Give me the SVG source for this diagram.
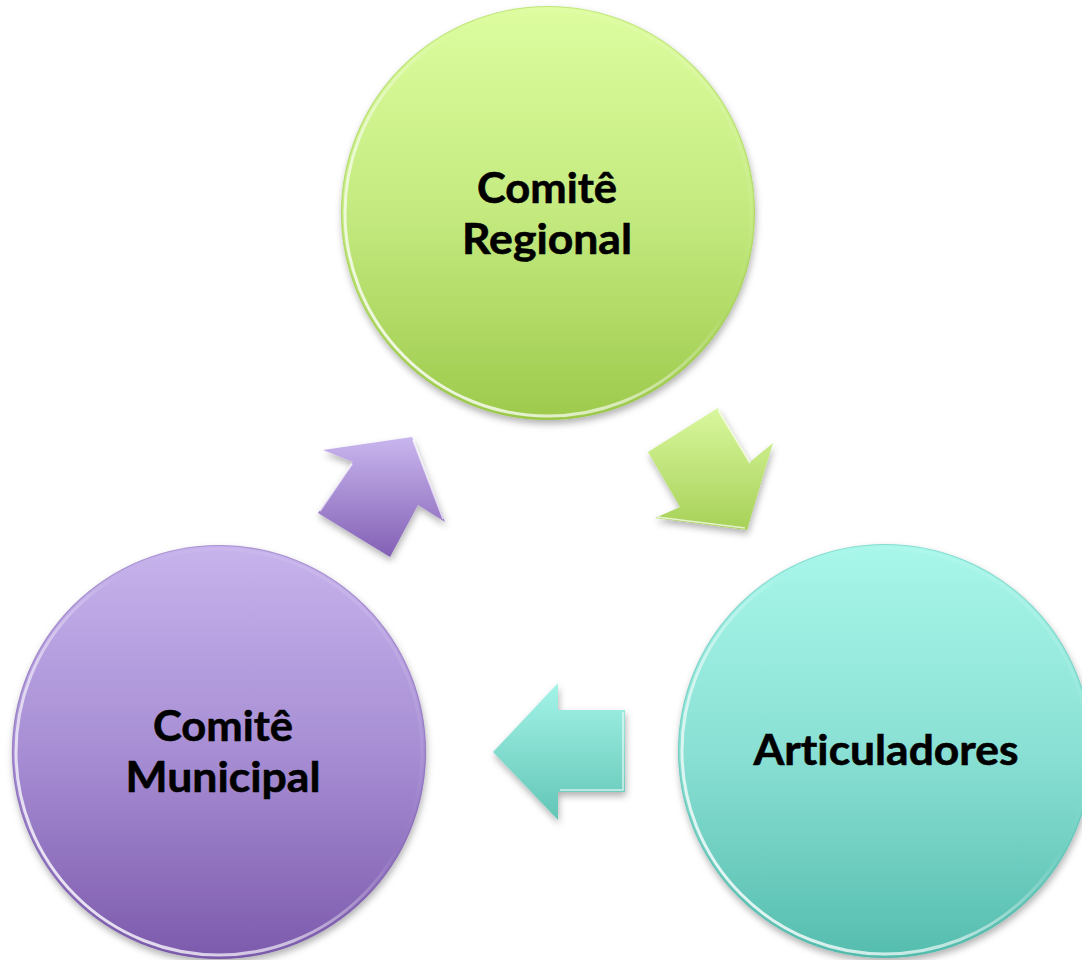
<svg xmlns="http://www.w3.org/2000/svg" width="1082" height="960" viewBox="0 0 1082 960">
  <defs>
    <linearGradient id="gGreen" x1="0" y1="0" x2="0" y2="1">
      <stop offset="0" stop-color="#ddfd9f"/>
      <stop offset="0.5" stop-color="#c4ea7f"/>
      <stop offset="1" stop-color="#9dca4c"/>
    </linearGradient>
    <linearGradient id="gTeal" x1="0" y1="0" x2="0" y2="1">
      <stop offset="0" stop-color="#a8f7ea"/>
      <stop offset="0.5" stop-color="#8ae0d4"/>
      <stop offset="1" stop-color="#55bdae"/>
    </linearGradient>
    <linearGradient id="gPurple" x1="0" y1="0" x2="0" y2="1">
      <stop offset="0" stop-color="#c7b3ec"/>
      <stop offset="0.5" stop-color="#a78ed4"/>
      <stop offset="1" stop-color="#7c5aac"/>
    </linearGradient>
    <linearGradient id="aGreen" x1="0" y1="0" x2="0" y2="1">
      <stop offset="0" stop-color="#d9f79d"/>
      <stop offset="1" stop-color="#a7d158"/>
    </linearGradient>
    <linearGradient id="aTeal" x1="0" y1="0" x2="0" y2="1">
      <stop offset="0" stop-color="#a4f3e8"/>
      <stop offset="1" stop-color="#62c6b6"/>
    </linearGradient>
    <linearGradient id="aPurple" x1="0" y1="0" x2="0" y2="1">
      <stop offset="0" stop-color="#c9b6ee"/>
      <stop offset="1" stop-color="#8360b5"/>
    </linearGradient>
    <linearGradient id="rim" x1="0" y1="1" x2="1" y2="0">
      <stop offset="0" stop-color="#ffffff" stop-opacity="0.95"/>
      <stop offset="0.35" stop-color="#ffffff" stop-opacity="0.6"/>
      <stop offset="0.6" stop-color="#ffffff" stop-opacity="0"/>
      <stop offset="0.85" stop-color="#ffffff" stop-opacity="0.1"/>
      <stop offset="1" stop-color="#ffffff" stop-opacity="0.5"/>
    </linearGradient>
    <filter id="shadow" x="-10%" y="-10%" width="120%" height="125%">
      <feDropShadow dx="1" dy="4" stdDeviation="3.5" flood-color="#000000" flood-opacity="0.3"/>
    </filter>
  </defs>
  <style>
    .label { font-family: Lato, "Open Sans", "Liberation Sans", sans-serif; font-weight: 700; font-size: 42px; fill: #000000; text-anchor: middle; font-variant-ligatures: none; font-feature-settings: "liga" 0, "clig" 0, "dlig" 0; stroke: #000000; stroke-width: 0.6; }
    .rim { fill: none; stroke: url(#rim); stroke-width: 3; }
    .edge { fill: none; stroke-width: 1.2; stroke-opacity: 0.35; }
    .arrowhl { fill: none; stroke: #ffffff; stroke-width: 1.5; stroke-opacity: 0.7; stroke-linejoin: round; }
  </style>
  <rect width="1082" height="960" fill="#ffffff"/>

  <g id="connectors">
    <g id="arrow-regional-articuladores" filter="url(#shadow)">
      <polygon points="648,452 718,408 750,462 773,443 747,530 655,518 680,507" fill="url(#aGreen)"/>
      <polyline class="arrowhl" points="718,410 750,463"/>
      <polyline class="arrowhl" points="657,517 745,528"/>
    </g>
    <g id="arrow-articuladores-municipal" filter="url(#shadow)">
      <polygon points="493,752 558,683 558,710 625,710 625,792 558,792 558,820" fill="url(#aTeal)"/>
      <polyline class="arrowhl" points="560,790 623,790 623,712"/>
    </g>
    <g id="arrow-municipal-regional" filter="url(#shadow)">
      <polygon points="323,450 412,437 445,522 418,505 390,557 318,513 353,462" fill="url(#aPurple)"/>
      <polyline class="arrowhl" points="352,464 320,511"/>
      <polyline class="arrowhl" points="413,440 443,519"/>
    </g>
  </g>

  <g id="node-regional">
    <circle cx="548" cy="213" r="207" fill="url(#gGreen)" filter="url(#shadow)"/>
    <circle class="rim" cx="548" cy="213" r="203"/>
    <circle class="edge" cx="548" cy="213" r="206.5" stroke="#8fbd40"/>
    <text class="label" x="547" y="203" textLength="140" lengthAdjust="spacingAndGlyphs">Comitê</text>
    <text class="label" x="547" y="254" textLength="170" lengthAdjust="spacingAndGlyphs">Regional</text>
  </g>

  <g id="node-articuladores">
    <circle cx="885" cy="751" r="207" fill="url(#gTeal)" filter="url(#shadow)"/>
    <circle class="rim" cx="885" cy="751" r="203"/>
    <circle class="edge" cx="885" cy="751" r="206.5" stroke="#4fb0a2"/>
    <text class="label" x="886" y="765" textLength="265" lengthAdjust="spacingAndGlyphs">Articuladores</text>
  </g>

  <g id="node-municipal">
    <circle cx="219" cy="752" r="207" fill="url(#gPurple)" filter="url(#shadow)"/>
    <circle class="rim" cx="219" cy="752" r="203"/>
    <circle class="edge" cx="219" cy="752" r="206.5" stroke="#7455a3"/>
    <text class="label" x="223" y="741" textLength="140" lengthAdjust="spacingAndGlyphs">Comitê</text>
    <text class="label" x="223" y="792" textLength="195" lengthAdjust="spacingAndGlyphs">Municipal</text>
  </g>
</svg>
